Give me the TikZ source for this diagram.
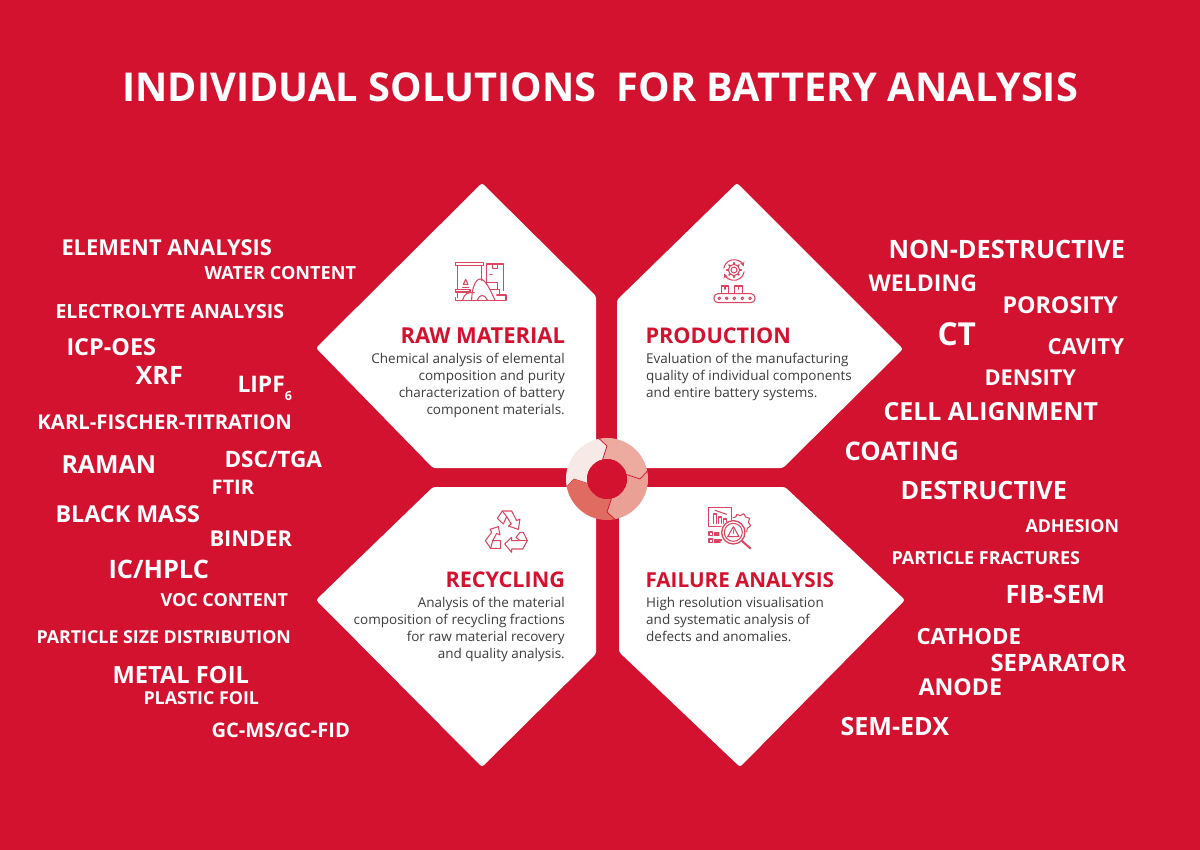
\documentclass[tikz,border=0pt]{standalone}
\usepackage{fontspec}
\usetikzlibrary{calc}
\setmainfont{Open Sans}
\definecolor{bgred}{HTML}{D2122F}
\definecolor{bodygrey}{HTML}{3C3C3C}
\definecolor{iconred}{HTML}{DC4560}
\definecolor{segA}{HTML}{F6E9E6}
\definecolor{segB}{HTML}{EDAA9F}
\definecolor{segC}{HTML}{EBA095}
\definecolor{segD}{HTML}{E06B60}
\newsavebox\fitbox
% name, left x, right x, centre y, text, colour
\newcommand{\lab}[6][white]{%
  \pgfinterruptpicture\global\setbox\fitbox\hbox{\fontsize{20}{20}\selectfont\bfseries #6}\endpgfinterruptpicture
  \pgfmathsetmacro\fs{(#4-#3+0.5)/\wd\fitbox*20}%
  \pgfmathsetmacro\by{#5+0.7+0.357*\fs}%
  \pgfmathsetmacro\bx{#3-0.5}%
  \node[lbl,text=#1,font=\fontsize{\fs}{\fs}\selectfont\bfseries] (#2) at (\bx,\by) {#6};%
}
\tikzset{
  card/.style={fill=white,rounded corners=2.5pt},
  lbl/.style={anchor=base west,inner sep=0pt,outer sep=0pt},
  bodyR/.style={anchor=north east,inner sep=0pt,align=right,text=bodygrey,font=\fontsize{13.5}{17}\selectfont},
  bodyL/.style={anchor=north west,inner sep=0pt,align=left,text=bodygrey,font=\fontsize{13.5}{17}\selectfont},
  icon/.style={draw=iconred,line width=1.05pt,line join=round,line cap=round},
}
\newcommand{\seg}[2]{% rotation, colour
  \fill[#2]
    ({101+#1}:41) arc[start angle={101+#1},end angle={11+#1},radius=41]
    -- ({#1}:33) -- ({13+#1}:20)
    arc[start angle={13+#1},end angle={103+#1},radius=20]
    -- ({90+#1}:33) -- cycle;
  \draw[bgred,line width=0.7pt,line join=round] ({101+#1}:41) -- ({90+#1}:33) -- ({103+#1}:20);
}
\begin{document}
\begin{tikzpicture}[x=1pt,y=-1pt]
\useasboundingbox (0,0) rectangle (1200,850);
\fill[bgred] (0,0) rectangle (1200,850);

% cards
\fill[card] (482,183) -- (596,296) -- (596,468) -- (433,468) -- (316,348) -- cycle;
\fill[card] (737,183) -- (903,349) -- (783,468) -- (617,468) -- (617,300) -- cycle;
\fill[card] (433,487) -- (596,487) -- (596,654) -- (482,767) -- (316,600) -- cycle;
\fill[card] (619,487) -- (785,487) -- (905,600) -- (740,767) -- (619,652) -- cycle;

% centre ring
\begin{scope}[shift={(607,479)},y=1pt]
  \seg{90}{segA}
  \seg{0}{segB}
  \seg{-90}{segC}
  \seg{180}{segD}
  \fill[bgred] (0,0) circle[radius=20];
\end{scope}

% title
\lab{title}{123}{1078}{87}{INDIVIDUAL SOLUTIONS\ \ FOR BATTERY ANALYSIS}

% card headings and texts
\lab[bgred]{hraw}{401}{565}{335}{RAW MATERIAL}
\node[bodyR] (braw) at (565,353) {Chemical analysis of elemental\\composition and purity\\characterization of battery\\component materials.};
\lab[bgred]{hprod}{646}{791}{335}{PRODUCTION}
\node[bodyL] (bprod) at (646,353) {Evaluation of the manufacturing\\quality of individual components\\and entire battery systems.};
\lab[bgred]{hrec}{446}{565}{579}{RECYCLING}
\node[bodyR] (brec) at (565,597) {Analysis of the material\\composition of recycling fractions\\for raw material recovery\\and quality analysis.};
\lab[bgred]{hfail}{646}{834}{579}{FAILURE ANALYSIS}
\node[bodyL] (bfail) at (646,597) {High resolution visualisation\\and systematic analysis of\\defects and anomalies.};

% left labels
\lab{l1}{62}{272}{247}{ELEMENT ANALYSIS}
\lab{l2}{205}{356}{272}{WATER CONTENT}
\lab{l3}{56}{284}{311}{ELECTROLYTE ANALYSIS}
\lab{l4}{67}{156}{346}{ICP-OES}
\lab{l5}{136}{183}{375}{XRF}
\lab{l6}{238}{292}{384}{LIPF\raisebox{-0.35em}{\scalebox{0.55}{6}}}
\lab{l7}{38}{292}{422}{KARL-FISCHER-TITRATION}
\lab{l8}{62}{156}{464}{RAMAN}
\lab{l9}{225}{322}{459}{DSC/TGA}
\lab{l10}{212}{254}{487}{FTIR}
\lab{l11}{56}{200}{513}{BLACK MASS}
\lab{l12}{210}{292}{538}{BINDER}
\lab{l13}{109}{209}{569}{IC/HPLC}
\lab{l14}{161}{288}{599}{VOC CONTENT}
\lab{l15}{37}{291}{636}{PARTICLE SIZE DISTRIBUTION}
\lab{l16}{113}{249}{674}{METAL FOIL}
\lab{l17}{144}{259}{697}{PLASTIC FOIL}
\lab{l18}{212}{350}{730}{GC-MS/GC-FID}

% right labels
\lab{r1}{889}{1125}{249}{NON-DESTRUCTIVE}
\lab{r2}{869}{977}{283}{WELDING}
\lab{r3}{1003}{1118}{304}{POROSITY}
\lab{r4}{938}{976}{334}{CT}
\lab{r5}{1048}{1124}{346}{CAVITY}
\lab{r6}{985}{1076}{377}{DENSITY}
\lab{r7}{884}{1098}{411}{CELL ALIGNMENT}
\lab{r8}{845}{959}{451}{COATING}
\lab{r9}{901}{1067}{490}{DESTRUCTIVE}
\lab{r10}{1026}{1119}{525}{ADHESION}
\lab{r11}{892}{1080}{557}{PARTICLE FRACTURES}
\lab{r12}{1006}{1105}{594}{FIB-SEM}
\lab{r13}{917}{1021}{636}{CATHODE}
\lab{r14}{991}{1126}{662}{SEPARATOR}
\lab{r15}{919}{1002}{687}{ANODE}
\lab{r16}{841}{949}{726}{SEM-EDX}

% raw material icon
\begin{scope}[shift={(440,250)},x=0.3333pt,y=-0.3333pt]
  \draw[icon] (47,38) rectangle (130,47);
  \draw[icon] (53,47) -- (53,118) (124,47) -- (124,92);
  \draw[icon] (47,118) -- (90,118) -- (90,126) -- (47,126) -- cycle;
  \draw[icon] (53,126) -- (53,143);
  \draw[icon] (47,143) -- (47,152) -- (198,152) -- (198,135) -- (170,135);
  \draw[icon] (70,103) -- (77,88) -- (84,103) -- cycle;
  \draw[icon] (68,112) -- (86,112);
  \draw[icon] (95,150) .. controls (95,120) and (105,88) .. (120,87) .. controls (138,88) and (150,120) .. (165,150);
  \draw[icon] (68,150) .. controls (72,132) and (85,125) .. (103,128);
  \draw[icon] (112,150) .. controls (118,132) and (135,132) .. (142,150);
  \draw[icon] (140,98) -- (140,42) -- (190,42) -- (190,122);
  \draw[icon] (158,42) -- (158,56) -- (172,56) -- (172,42);
  \draw[icon] (150,74) -- (156,74);
  \draw[icon] (142,98) -- (172,98) -- (172,118) -- (150,118);
  \draw[icon] (165,118) -- (178,118) -- (178,135);
\end{scope}

% production icon
\begin{scope}[shift={(700,250)},x=0.3333pt,y=-0.3333pt]
  \draw[icon] (102,60) circle[radius=9];
  \draw[icon] (102,60) circle[radius=17];
  \foreach \a in {0,45,...,315}
    \draw[icon,line width=1.5pt] ($(102,60)+(\a:17)$) -- ($(102,60)+(\a:22)$);
  \draw[icon,-stealth] (71.5,54.6) arc[start angle=190,end angle=340,radius=31];
  \draw[icon,-stealth] (132.5,65.4) arc[start angle=10,end angle=160,radius=31];
  \draw[icon] (64,130) -- (64,108) -- (86,108) -- (86,130);
  \draw[icon] (104,130) -- (104,108) -- (128,108) -- (128,130);
  \draw[icon] (75,108) -- (75,118) (116,108) -- (116,118);
  \draw[icon,rounded corners=4pt] (42,131) rectangle (165,158);
  \foreach \cx in {58,80,103,127,150}
    \draw[icon] (\cx,145) circle[radius=4];
\end{scope}

% recycling icon
\begin{scope}[shift={(470,500)},x=0.3333pt,y=-0.3333pt]
  \draw[icon] (82,55) -- (97,33) -- (125,33) -- (140,62) -- (150,57) -- (145,88) -- (115,78) -- (124,72) -- (110,50) -- (100,72) -- cycle;
  \draw[icon] (110,50) -- (97,33);
  \draw[icon] (150,97) -- (160,97) -- (172,122) -- (158,147) -- (125,147) -- (125,157) -- (104,132) -- (125,112) -- (125,122) -- (150,122) -- (138,112) -- cycle;
  \draw[icon] (150,122) -- (172,122);
  \draw[icon] (60,88) -- (85,80) -- (90,105) -- (80,100) -- (68,122) -- (92,122) -- (92,145) -- (62,145) -- (46,122) -- (65,97) -- cycle;
  \draw[icon] (68,122) -- (62,145);
\end{scope}

% failure analysis icon
\begin{scope}[shift={(695,495)},x=0.3333pt,y=-0.3333pt]
  \draw[icon] (78,95) -- (40,95) -- (40,38) -- (110,38) -- (110,76);
  \draw[icon] (56,85) -- (56,57) -- (65,57) -- (65,85);
  \draw[icon] (71,85) -- (71,66) -- (80,66) -- (80,85);
  \draw[icon] (86,85) -- (86,72) -- (95,72) -- (95,80);
  \draw[icon] (60,46) -- (95,58);
  \draw[icon] (114,68) -- (122,66) -- (126,58) -- (136,62) -- (146,56) -- (152,66) -- (164,70) -- (160,82) -- (167,92) -- (157,100) -- (155,110);
  \draw[icon,line width=1.3pt] (115,112) circle[radius=35];
  \draw[icon] (115,112) circle[radius=27];
  \draw[icon] (115,95) -- (98,125) -- (132,125) -- cycle;
  \draw[icon] (115,105) -- (115,115);
  \draw[icon,line width=2pt] (141,138) -- (166,160);
  \draw[icon] (42,111) rectangle (52,122);
  \draw[icon] (42,132) rectangle (52,143);
  \draw[icon] (58,114) -- (72,114) (58,120) -- (72,120);
  \draw[icon] (58,135) -- (80,135) (58,141) -- (76,141);
\end{scope}
\end{tikzpicture}
\end{document}
